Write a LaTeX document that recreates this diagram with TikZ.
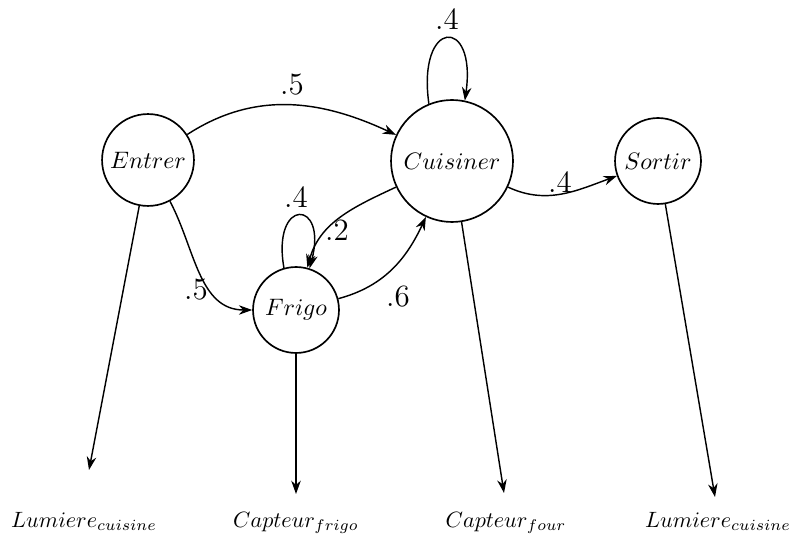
\documentclass[tikz,border=0pt]{standalone}
\usetikzlibrary{arrows.meta}
\begin{document}
\begin{tikzpicture}[x=0.42pt,y=0.42pt,
  state/.style={circle, draw, line width=0.7pt, inner sep=0pt},
  conn/.style={-{Stealth[length=5.6pt,width=4pt]}, line width=0.6pt},
  prob/.style={inner sep=0pt, font=\fontsize{13}{15}\selectfont},
  obs/.style={inner sep=0pt, anchor=base, scale=0.93}]
\useasboundingbox (0,0) rectangle (793,534);
\node[state, minimum size=38.6pt] (E) at (148,374) {$Entrer$};
\node[state, minimum size=51.2pt] (C) at (452,373) {$Cuisiner$};
\node[state, minimum size=36.1pt] (S) at (658,373) {$Sortir$};
\node[state, minimum size=36.1pt] (F) at (296,224) {$Frigo$};

\node[obs] (L1) at (84,7) {$Lumiere_{cuisine}$};
\node[obs] (CF) at (296,7) {$Capteur_{frigo}$};
\node[obs] (CO) at (506,7) {$Capteur_{four}$};
\node[obs] (L2) at (718,7) {$Lumiere_{cuisine}$};
\coordinate (a1) at (89,64);
\coordinate (a2) at (296,40);
\coordinate (a3) at (504,41);
\coordinate (a4) at (715,37);

\draw[conn] (E) to[out=33,in=155] (C);
\draw[conn] (E) to[out=-62,in=180] (F);
\draw[conn] (F) to[out=15,in=245] (C);
\draw[conn] (C) to[out=205,in=75] (F);
\draw[conn] (C) to[out=-25,in=200] (S);
\draw[conn] (F.106) .. controls +(100:72) and +(75:72) .. (F.72);
\draw[conn] (C.112) .. controls +(98:86) and +(82:86) .. (C.78);

\draw[conn] (E) -- (a1);
\draw[conn] (F) -- (a2);
\draw[conn] (C) -- (a3);
\draw[conn] (S) -- (a4);

\node[prob] (p1) at (292,449) {.5};
\node[prob] (p2) at (196,244) {.5};
\node[prob] (p3) at (398,237) {.6};
\node[prob] (p4) at (337,304) {.2};
\node[prob] (p5) at (296,337) {.4};
\node[prob] (p6) at (447,515) {.4};
\node[prob] (p7) at (560,352) {.4};
\end{tikzpicture}
\end{document}
